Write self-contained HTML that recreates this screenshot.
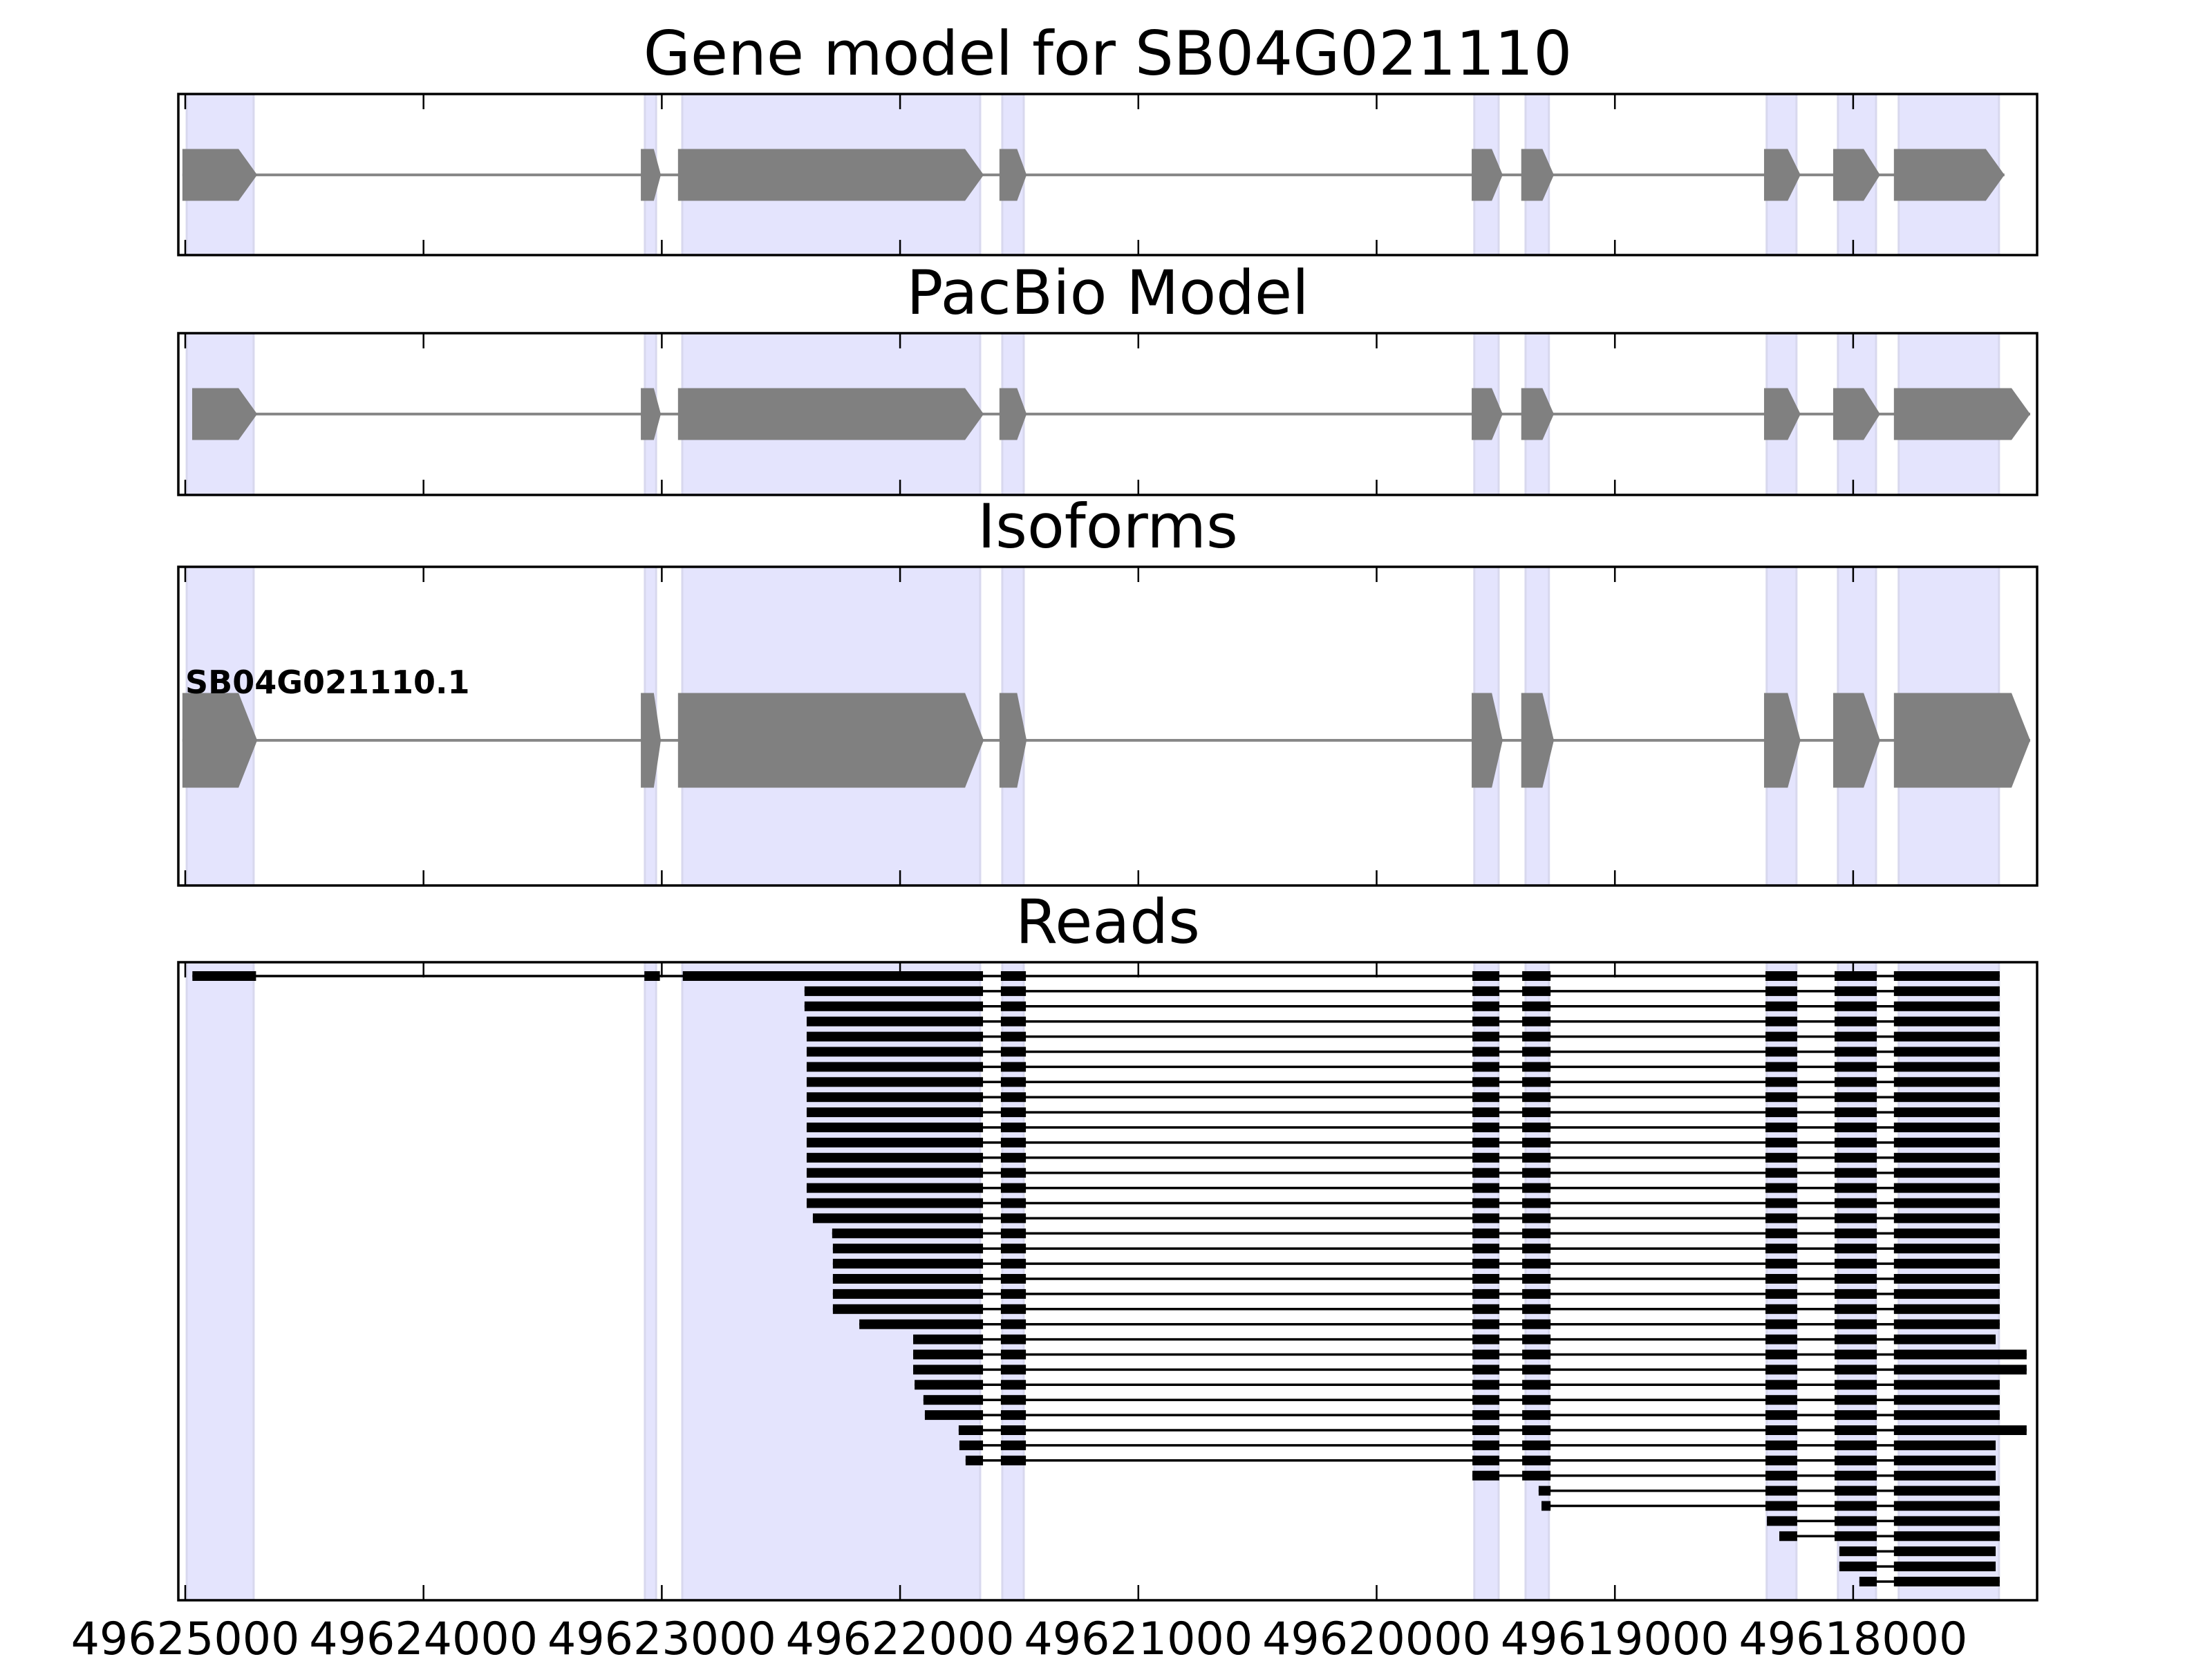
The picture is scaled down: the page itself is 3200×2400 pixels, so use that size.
<!DOCTYPE html>
<html><head><meta charset="utf-8"><style>
html,body{margin:0;padding:0;background:#fff;}
svg{display:block;}
text{font-family:"DejaVu Sans","Liberation Sans",sans-serif;}
</style></head>
<body>
<svg id="fig" width="3200" height="2400" viewBox="0 0 3200 2400" xmlns="http://www.w3.org/2000/svg"></svg>
<script>
const xTicks = [49625000,49624000,49623000,49622000,49621000,49620000,49619000,49618000];
const tickLabels = ["49625000","49624000","49623000","49622000","49621000","49620000","49619000","49618000"];
const shadedStart = [49624994,49623071,49622914,49621571,49619590,49619375,49618363,49618064,49617809];
const shadedEnd   = [49624713,49623024,49621664,49621481,49619488,49619277,49618238,49617904,49617388];
const geneExonStart = [49625012,49623088,49622932,49621583,49619601,49619393,49618374,49618084,49617829];
const geneExonEnd   = [49624698,49623004,49621649,49621469,49619471,49619256,49618221,49617887,49617365];
const pacbioExonStart = [49624971,49623088,49622932,49621583,49619601,49619393,49618374,49618084,49617829];
const pacbioExonEnd   = [49624698,49623004,49621649,49621469,49619471,49619256,49618221,49617887,49617257];
const isoExonStart = [49625012,49623088,49622932,49621583,49619601,49619393,49618374,49618084,49617829];
const isoExonEnd   = [49624698,49623004,49621649,49621469,49619471,49619256,49618221,49617887,49617257];
const readExonStart = [49624970,49623073,49622912,49621577,49619598,49619389,49618368,49618078,49617829];
const readExonEnd   = [49624703,49623008,49621652,49621472,49619485,49619270,49618235,49617901,49617200];
const readStarts = [49624970,49622401,49622401,49622392,49622392,49622392,49622392,49622392,49622392,49622392,49622392,49622392,49622392,49622392,49622392,49622392,49622366,49622285,49622282,49622282,49622282,49622282,49622282,49622171,49621945,49621945,49621945,49621939,49621902,49621896,49621754,49621751,49621725,49619598,49619320,49619308,49618362,49618310,49618058,49618058,49617974];
const readEnds = [49617385,49617385,49617385,49617385,49617385,49617385,49617385,49617385,49617385,49617385,49617385,49617385,49617385,49617385,49617385,49617385,49617385,49617385,49617385,49617385,49617385,49617385,49617385,49617385,49617402,49617272,49617272,49617385,49617385,49617385,49617272,49617402,49617402,49617402,49617385,49617385,49617385,49617385,49617402,49617402,49617385];

const NS="http://www.w3.org/2000/svg";
const svg=document.getElementById('fig');
const X0=258, X1=2947, POS0=49625029, POS1=49617228;
function xs(p){return X0+(POS0-p)/(POS0-POS1)*(X1-X0);}
function el(tag,attrs,parent){const e=document.createElementNS(NS,tag);for(const k in attrs)e.setAttribute(k,attrs[k]);(parent||svg).appendChild(e);return e;}

const panels=[
 {name:'gene-model-panel',title:'Gene model for SB04G021110',top:136,bot:369},
 {name:'pacbio-model-panel',title:'PacBio Model',top:482,bot:716},
 {name:'isoforms-panel',title:'Isoforms',top:820,bot:1281},
 {name:'reads-panel',title:'Reads',top:1392,bot:2315}
];
const groups=[];
panels.forEach((p,i)=>{
  const g=el('g',{});
  
  
  groups.push(g);
  for(let k=0;k<shadedStart.length;k++){
    const a=xs(shadedStart[k]),b=xs(shadedEnd[k]);
    const r=el('rect',{x:a,y:p.top,width:b-a,height:p.bot-p.top,fill:'#e4e4fd',stroke:'#d8d8ee','stroke-width':3},g);
    
    
  }
  const t=el('text',{x:(X0+X1)/2,y:p.top-28,'font-size':88,'text-anchor':'middle',fill:'#000'},g);
  t.textContent=p.title;
  
  
});

function drawModel(g,starts,ends,cy,h){
  const a=xs(starts[0]),b=xs(ends[ends.length-1]);
  const ln=el('line',{x1:a,y1:cy,x2:b,y2:cy,stroke:'#888','stroke-width':4},g);
  
  
  for(let k=0;k<starts.length;k++){
    const x1=xs(starts[k]),x2=xs(ends[k]);
    const len=x2-x1;
    const tip=Math.min(27,len*0.35);
    const top=cy-h/2,bot=cy+h/2;
    const pts=[[x1,top],[x2-tip,top],[x2,cy],[x2-tip,bot],[x1,bot]].map(q=>q.join(',')).join(' ');
    const pg=el('polygon',{points:pts,fill:'#808080'},g);
    
    
  }
}
drawModel(groups[0],geneExonStart,geneExonEnd,253,75);
drawModel(groups[1],pacbioExonStart,pacbioExonEnd,599,75);
drawModel(groups[2],isoExonStart,isoExonEnd,1071,137);
const lab=el('text',{x:268,y:1003,'font-size':46,'font-weight':'bold',fill:'#000'},groups[2]);
lab.textContent='SB04G021110.1';



const rowY0=1412, rowDy=21.9;
for(let r=0;r<readStarts.length;r++){
  const y=rowY0+r*rowDy, s=readStarts[r], e=readEnds[r];
  const rg=el('g',{},groups[3]);
  
  
  el('line',{x1:xs(s),y1:y,x2:xs(e),y2:y,stroke:'#000','stroke-width':3.5},rg);
  for(let k=0;k<readExonStart.length;k++){
    const hi=Math.min(readExonStart[k],s), lo=Math.max(readExonEnd[k],e);
    if(hi<=lo) continue;
    const a=xs(hi),b=xs(lo);
    const rc=el('rect',{x:a,y:y-7,width:b-a,height:14,fill:'#000'},rg);
    
    
  }
}

panels.forEach((p,i)=>{
  const g=groups[i];
  const f=el('rect',{x:X0,y:p.top,width:X1-X0,height:p.bot-p.top,fill:'none',stroke:'#000','stroke-width':3.5},g);
  
  
  xTicks.forEach((t,k)=>{
    const x=xs(t);
    el('line',{x1:x,y1:p.top,x2:x,y2:p.top+22,stroke:'#000','stroke-width':2.5},g);
    el('line',{x1:x,y1:p.bot,x2:x,y2:p.bot-22,stroke:'#000','stroke-width':2.5},g);
    if(i===3){
      const tl=el('text',{x:x,y:2393,'font-size':65,'text-anchor':'middle',fill:'#000'},g);
      tl.textContent=tickLabels[k];
      
      
    }
  });
});
</script>
</body></html>
